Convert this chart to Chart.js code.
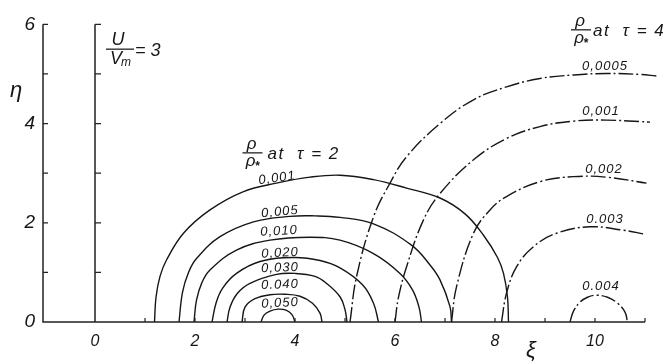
<!DOCTYPE html>
<html>
<head>
<meta charset="utf-8">
<script src="https://cdn.jsdelivr.net/npm/chart.js@4"></script>
<style>
  body { margin: 0; background: #fff; }
  #wrap { width: 667px; height: 364px; }
</style>
</head>
<body>
<div id="wrap"><canvas id="chart"></canvas></div>
<script>
// axis ticks
const xiTicks = [0, 2, 4, 6, 8, 10]
const etaTicks = [0, 2, 4, 6]
const xiMinor = [1, 2, 3, 4, 5, 6, 7, 8, 9, 10, 11]
const etaMinor = [1, 2, 3, 4, 5, 6]

// rho / rho* contours at tau = 2 (solid), points are [xi, eta]
const tau2Levels = ['0,001', '0,005', '0,010', '0,020', '0,030', '0.040', '0,050']
const tau2_001 = [[1.19, 0], [1.22, 0.5], [1.3, 0.92], [1.43, 1.25], [1.77, 1.79], [2.3, 2.26], [2.97, 2.63], [3.63, 2.8], [4.3, 2.92], [4.9, 2.96], [5.57, 2.87], [6.23, 2.7], [6.9, 2.5], [7.4, 2.18], [7.77, 1.75], [8.05, 1.3], [8.17, 0.98], [8.25, 0.5], [8.27, 0]]
const tau2_005 = [[1.68, 0], [1.75, 0.6], [1.87, 1.0], [2.03, 1.28], [2.5, 1.72], [3.17, 2.02], [3.9, 2.13], [4.4, 2.14], [4.9, 2.11], [5.57, 1.98], [6.33, 1.55], [6.7, 1.15], [6.9, 0.85], [7.1, 0.31], [7.13, 0]]
const tau2_010 = [[1.98, 0], [2.03, 0.44], [2.14, 0.8], [2.3, 1.05], [2.83, 1.45], [3.5, 1.65], [4.3, 1.71], [4.9, 1.65], [5.57, 1.38], [6.1, 0.98], [6.35, 0.65], [6.48, 0.3], [6.53, 0]]
const tau2_020 = [[2.34, 0], [2.42, 0.38], [2.55, 0.68], [2.83, 0.98], [3.3, 1.22], [3.97, 1.3], [4.5, 1.24], [4.9, 1.09], [5.35, 0.75], [5.57, 0.38], [5.67, 0]]
const tau2_030 = [[2.64, 0], [2.7, 0.3], [2.85, 0.58], [3.1, 0.78], [3.63, 0.96], [4.0, 0.98], [4.4, 0.92], [4.63, 0.78], [4.9, 0.51], [5.0, 0.25], [5.04, 0]]
const tau2_040 = [[2.94, 0], [3.0, 0.3], [3.2, 0.47], [3.5, 0.55], [3.8, 0.56], [4.1, 0.52], [4.35, 0.38], [4.5, 0.18], [4.54, 0]]
const tau2_050 = [[3.32, 0], [3.38, 0.14], [3.5, 0.22], [3.66, 0.26], [3.82, 0.24], [3.94, 0.15], [4.0, 0]]

// rho / rho* contours at tau = 4 (dash-dot)
const tau4Levels = ['0,0005', '0,001', '0,002', '0.003', '0.004']
const tau4_0005 = [[5.1, 0], [5.23, 0.91], [5.57, 2.12], [5.9, 2.8], [6.23, 3.33], [6.9, 4.0], [7.57, 4.48], [8.23, 4.74], [8.9, 4.91], [9.57, 4.98], [10.23, 5.01], [10.9, 4.99], [11.23, 4.96]]
const tau4_001 = [[6.0, 0], [6.07, 0.5], [6.23, 1.11], [6.57, 2.06], [6.9, 2.59], [7.57, 3.27], [8.23, 3.7], [8.9, 3.94], [9.57, 4.05], [10.23, 4.07], [10.9, 4.04], [11.1, 4.03]]
const tau4_002 = [[7.13, 0], [7.23, 0.71], [7.57, 1.79], [7.9, 2.26], [8.23, 2.53], [8.9, 2.83], [9.57, 2.93], [10.23, 2.92], [11.03, 2.8]]
const tau4_003 = [[8.13, 0], [8.23, 0.58], [8.43, 1.11], [8.77, 1.52], [9.23, 1.79], [9.9, 1.92], [10.57, 1.85], [11.0, 1.77]]
const tau4_004 = [[9.5, 0], [9.57, 0.22], [9.7, 0.4], [9.85, 0.5], [10.03, 0.54], [10.25, 0.5], [10.45, 0.38], [10.6, 0.2], [10.65, 0]]

const tau2Curves = [tau2_001, tau2_005, tau2_010, tau2_020, tau2_030, tau2_040, tau2_050]
const tau4Curves = [tau4_0005, tau4_001, tau4_002, tau4_003, tau4_004]

// where the level labels sit: [xi, eta, rotation in degrees]
const tau2LabelAt = [[3.64, 2.9, -8], [3.7, 2.22, -5], [3.68, 1.83, -3], [3.7, 1.39, -3], [3.7, 1.09, -2], [3.7, 0.75, -2], [3.7, 0.38, -3]]
const tau4LabelAt = [[10.2, 5.16, 0], [10.12, 4.25, 0], [10.18, 3.08, 0], [10.2, 2.06, 0], [10.12, 0.72, 0]]

const axisLeft = -1.04
const axisRight = 11
const ink = '#161616'
const hand = '"Liberation Sans", "DejaVu Sans", sans-serif'

const toPoints = arr => arr.map(p => ({ x: p[0], y: p[1] }))

const datasets = []
tau2Curves.forEach((c, i) => datasets.push({
    label: 'tau2 ' + tau2Levels[i],
    data: toPoints(c),
    borderColor: ink,
    borderWidth: 1.4,
    showLine: true,
    tension: 0.4,
    pointRadius: 0
}))
tau4Curves.forEach((c, i) => datasets.push({
    label: 'tau4 ' + tau4Levels[i],
    data: toPoints(c),
    borderColor: ink,
    borderWidth: 1.4,
    borderDash: [15, 3, 2, 3],
    showLine: true,
    tension: 0.4,
    pointRadius: 0,
    clip: false
}))

// numerator over denominator, bar centred on (cx, cy)
function fraction(ctx, cx, cy, w, drawTop, drawBottom) {
    ctx.beginPath()
    ctx.moveTo(cx - w / 2, cy)
    ctx.lineTo(cx + w / 2, cy)
    ctx.stroke()
    drawTop(cx, cy - 4)
    drawBottom(cx, cy + 15)
}

function rhoStar(ctx, cx, cy) {
    fraction(ctx, cx, cy, 20,
        (x, y) => { ctx.font = 'italic 17px ' + hand; ctx.textAlign = 'center'; ctx.fillText('ρ', x - 1, y) },
        (x, y) => {
            ctx.font = 'italic 17px ' + hand; ctx.textAlign = 'center'; ctx.fillText('ρ', x - 2, y - 2)
            ctx.font = 'bold 12px ' + hand; ctx.fillText('*', x + 5, y + 2)
        })
}

const frame = {
    id: 'frame',
    afterDatasetsDraw(chart) {
        const { ctx, scales: { x, y } } = chart
        const X = v => x.getPixelForValue(v)
        const Y = v => y.getPixelForValue(v)
        ctx.save()
        ctx.strokeStyle = '#222'
        ctx.fillStyle = ink
        ctx.lineWidth = 1.5

        // frame: left axis, xi = 0 line, base line
        ctx.beginPath()
        ctx.moveTo(X(axisLeft), Y(6))
        ctx.lineTo(X(axisLeft), Y(0))
        ctx.lineTo(X(axisRight), Y(0))
        ctx.moveTo(X(0), Y(0))
        ctx.lineTo(X(0), Y(6))
        ctx.stroke()

        ctx.lineWidth = 1.2
        ctx.beginPath()
        etaMinor.forEach(v => {
            ctx.moveTo(X(axisLeft), Y(v)); ctx.lineTo(X(axisLeft) + 5, Y(v))
            ctx.moveTo(X(0), Y(v)); ctx.lineTo(X(0) + 6, Y(v))
        })
        xiMinor.forEach(v => {
            ctx.moveTo(X(v), Y(0)); ctx.lineTo(X(v), Y(0) - 4)
        })
        ctx.stroke()

        // axis names
        ctx.textBaseline = 'middle'
        ctx.textAlign = 'center'
        ctx.font = 'italic 22px ' + hand
        ctx.fillText('η', 16, Y(4.66))
        ctx.fillText('ξ', X(8.72), 351)

        // level labels
        ctx.font = 'italic 13px ' + hand
        ctx.letterSpacing = '1px'
        const put = (txt, at) => {
            ctx.save()
            ctx.translate(X(at[0]), Y(at[1]))
            ctx.rotate(at[2] * Math.PI / 180)
            ctx.fillText(txt, 0, 0)
            ctx.restore()
        }
        tau2Levels.forEach((t, i) => put(t, tau2LabelAt[i]))
        tau4Levels.forEach((t, i) => put(t, tau4LabelAt[i]))

        // rho / rho* headings
        ctx.lineWidth = 1.3
        ctx.textBaseline = 'alphabetic'
        ctx.letterSpacing = '0px'
        rhoStar(ctx, X(3.15), Y(3.41))
        ctx.font = 'italic 17px ' + hand
        ctx.textAlign = 'left'
        ctx.letterSpacing = '1.5px'
        ctx.fillText('at  τ = 2', X(3.15) + 15, Y(3.41) + 6)
        ctx.letterSpacing = '0px'
        rhoStar(ctx, X(9.72), Y(5.89))
        ctx.font = 'italic 17px ' + hand
        ctx.textAlign = 'left'
        ctx.letterSpacing = '1.5px'
        ctx.fillText('at  τ = 4', X(9.72) + 12, Y(5.89) + 6)

        // U / Vm = 3
        ctx.letterSpacing = '0px'
        const ux = X(0.5), uy = Y(5.5)
        fraction(ctx, ux, uy, 28,
            (px, py) => { ctx.font = 'italic 18px ' + hand; ctx.textAlign = 'center'; ctx.fillText('U', px - 2, py) },
            (px, py) => {
                ctx.font = 'italic 18px ' + hand; ctx.textAlign = 'center'; ctx.fillText('V', px - 4, py)
                ctx.font = 'italic 12px ' + hand; ctx.fillText('m', px + 6, py + 2)
            })
        ctx.font = 'italic 18px ' + hand
        ctx.textAlign = 'left'
        ctx.fillText('= 3', ux + 15, uy + 7)
        ctx.restore()
    }
}

new Chart(document.getElementById('chart'), {
    type: 'scatter',
    data: { datasets: datasets },
    options: {
        responsive: true,
        maintainAspectRatio: false,
        animation: false,
        layout: { padding: { top: 19, right: 7, left: 0, bottom: 0 } },
        plugins: { legend: { display: false }, tooltip: { enabled: false } },
        scales: {
            x: {
                type: 'linear',
                min: -1.04,
                max: 11.3,
                grid: { display: false, drawTicks: false },
                border: { display: false },
                afterBuildTicks: s => { s.ticks = xiTicks.map(v => ({ value: v })) },
                afterFit: s => { s.height = 37 },
                ticks: { color: ink, padding: 5, autoSkip: false, maxRotation: 0, font: { family: hand, size: 16, style: 'italic' } }
            },
            y: {
                type: 'linear',
                min: -0.1,
                max: 6.1,
                grid: { display: false, drawTicks: false },
                border: { display: false },
                afterBuildTicks: s => { s.ticks = etaTicks.map(v => ({ value: v })) },
                afterFit: s => { s.width = 43 },
                ticks: { color: ink, padding: 8, font: { family: hand, size: 19, style: 'italic' } }
            }
        }
    },
    plugins: [frame]
})
</script>
</body>
</html>
